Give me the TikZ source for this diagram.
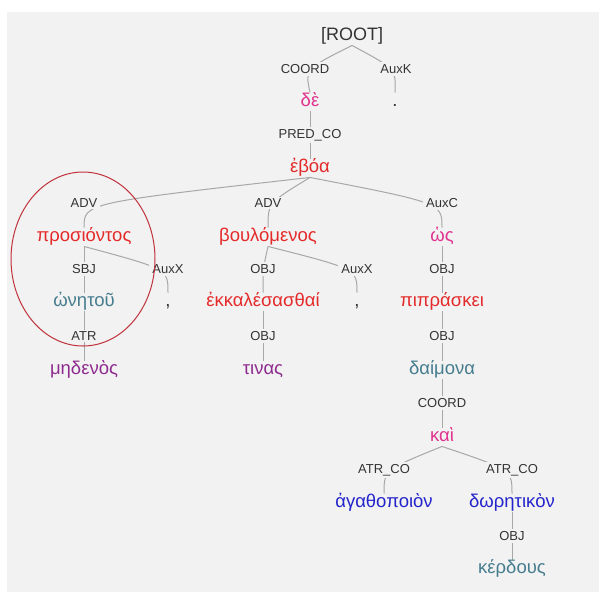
\documentclass[tikz,border=0pt]{standalone}
\usepackage{fontspec}
\setmainfont{Liberation Sans}
\usepackage{tikz}
\usetikzlibrary{backgrounds}

\definecolor{bg}{HTML}{F2F2F2}
\definecolor{labgray}{HTML}{333333}
\definecolor{edgegray}{HTML}{A8A8A8}
\definecolor{wred}{HTML}{E42A2A}
\definecolor{wpink}{HTML}{E0338F}
\definecolor{wteal}{HTML}{467D8E}
\definecolor{wpurple}{HTML}{8E2B8E}
\definecolor{wblue}{HTML}{2424CC}
\definecolor{circred}{HTML}{C0323C}

\begin{document}
\begin{tikzpicture}[x=1pt,y=-1pt,
	word/.style={font=\fontsize{18.5}{21}\selectfont, text height=12.5pt, text depth=4pt, inner sep=1pt},
	lab/.style={font=\fontsize{13}{15}\selectfont, text=labgray, fill=bg, inner xsep=3pt, inner ysep=2pt},
	dep/.style={draw=edgegray, line width=1pt}]
	\useasboundingbox (0,0) rectangle (599,592);
	\begin{scope}[on background layer]
		\fill[bg] (7,12) rectangle (599,592);
	\end{scope}

	% words
	\node[word, text=labgray, font=\fontsize{18}{21}\selectfont] (root) at (352,36) {[ROOT]};
	\node[word, text=wpink] (de) at (310,102) {δὲ};
	\node[word, text=labgray] (dot) at (395,102) {.};
	\node[word, text=wred] (eboa) at (310,168) {ἐβόα};
	\node[word, text=wred] (pros) at (84,237) {προσιόντος};
	\node[word, text=wred] (boul) at (268,237) {βουλόμενος};
	\node[word, text=wpink] (hos) at (442,237) {ὡς};
	\node[word, text=wteal] (onetou) at (84,302) {ὠνητοῦ};
	\node[word, text=labgray] (comma1) at (168,302) {,};
	\node[word, text=wred] (ekkal) at (263,302) {ἐκκαλέσασθαί};
	\node[word, text=labgray] (comma2) at (357,302) {,};
	\node[word, text=wred] (pipr) at (442,302) {πιπράσκει};
	\node[word, text=wpurple] (medenos) at (84,370) {μηδενὸς};
	\node[word, text=wpurple] (tinas) at (263,370) {τινας};
	\node[word, text=wteal] (daim) at (442,370) {δαίμονα};
	\node[word, text=wpink] (kai) at (442,437) {καὶ};
	\node[word, text=wblue] (agath) at (384,503) {ἀγαθοποιὸν};
	\node[word, text=wblue] (dor) at (512,503) {δωρητικὸν};
	\node[word, text=wteal] (kerd) at (512,569) {κέρδους};

	% relation labels
	\node[lab] (lcoord) at (305,69) {COORD};
	\node[lab] (lauxk) at (396,69) {AuxK};
	\node[lab] (lpred) at (310,135) {PRED\_CO};
	\node[lab] (ladv1) at (84,203) {ADV};
	\node[lab] (ladv2) at (268,203) {ADV};
	\node[lab] (lauxc) at (442,203) {AuxC};
	\node[lab] (lsbj) at (84,269) {SBJ};
	\node[lab] (lauxx1) at (168,269) {AuxX};
	\node[lab] (lobj1) at (263,269) {OBJ};
	\node[lab] (lauxx2) at (357,269) {AuxX};
	\node[lab] (lobj3) at (442,269) {OBJ};
	\node[lab] (latr) at (84,336) {ATR};
	\node[lab] (lobj2) at (263,336) {OBJ};
	\node[lab] (lobj4) at (442,336) {OBJ};
	\node[lab] (lcoord2) at (442,403) {COORD};
	\node[lab] (latrco1) at (384,470) {ATR\_CO};
	\node[lab] (latrco2) at (512,470) {ATR\_CO};
	\node[lab] (lobj5) at (512,536) {OBJ};

	% dependencies
	\begin{scope}[on background layer]
		\draw[dep] (root.south) .. controls (lcoord) .. (de.north);
		\draw[dep] (root.south) .. controls (lauxk) .. (dot.north);
		\draw[dep] (de.south) .. controls (lpred) .. (eboa.north);
		\draw[dep] (eboa.south) .. controls (ladv1) .. (pros.north);
		\draw[dep] (eboa.south) .. controls (ladv2) .. (boul.north);
		\draw[dep] (eboa.south) .. controls (lauxc) .. (hos.north);
		\draw[dep] (pros.south) .. controls (lsbj) .. (onetou.north);
		\draw[dep] (pros.south) .. controls (lauxx1) .. (comma1.north);
		\draw[dep] (onetou.south) .. controls (latr) .. (medenos.north);
		\draw[dep] (boul.south) .. controls (lobj1) .. (ekkal.north);
		\draw[dep] (boul.south) .. controls (lauxx2) .. (comma2.north);
		\draw[dep] (ekkal.south) .. controls (lobj2) .. (tinas.north);
		\draw[dep] (hos.south) .. controls (lobj3) .. (pipr.north);
		\draw[dep] (pipr.south) .. controls (lobj4) .. (daim.north);
		\draw[dep] (daim.south) .. controls (lcoord2) .. (kai.north);
		\draw[dep] (kai.south) .. controls (latrco1) .. (agath.north);
		\draw[dep] (kai.south) .. controls (latrco2) .. (dor.north);
		\draw[dep] (dor.south) .. controls (lobj5) .. (kerd.north);
	\end{scope}

	% highlight
	\draw[circred, line width=1pt] (83,259) ellipse [x radius=72, y radius=87];
\end{tikzpicture}
\end{document}
